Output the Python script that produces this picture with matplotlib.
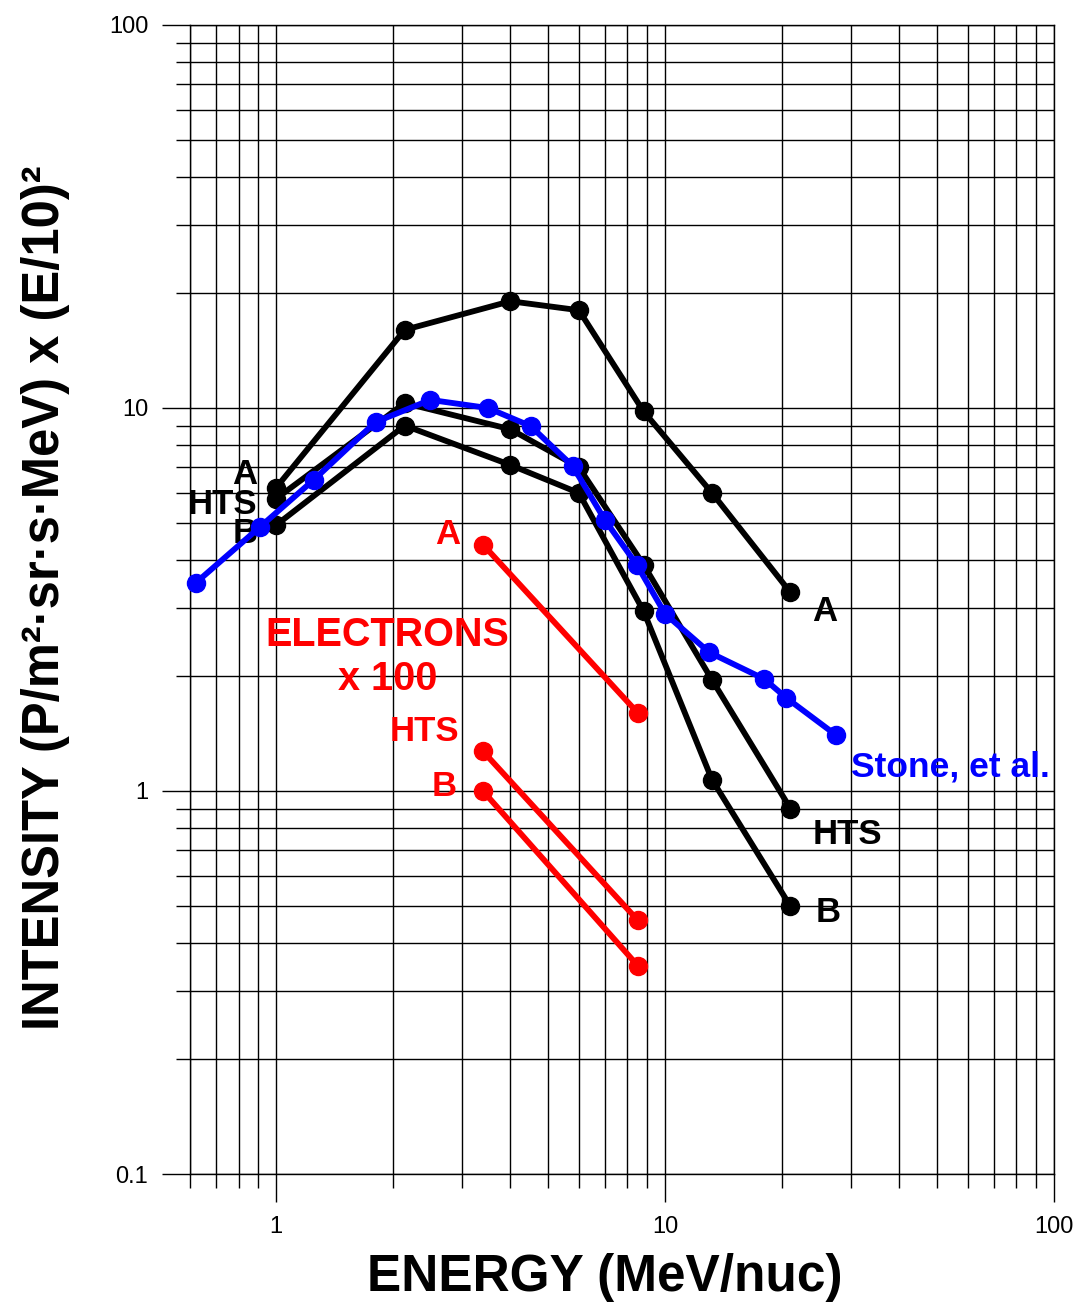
import matplotlib
matplotlib.use('Agg')
import matplotlib.pyplot as plt
from matplotlib import ticker

# ---- data ----
energy = [1.0, 2.14, 4.0, 6.0, 8.8, 13.2, 21.0]
ion_A = [6.2, 16.0, 19.0, 18.0, 9.8, 6.0, 3.3]
ion_HTS = [5.8, 10.3, 8.8, 7.0, 3.9, 1.95, 0.9]
ion_B = [4.95, 9.0, 7.1, 6.0, 2.95, 1.07, 0.5]

stone_energy = [0.62, 0.91, 1.25, 1.80, 2.49, 3.50, 4.51, 5.78, 7.0, 8.45, 10.0, 13.0, 18.0, 20.5, 27.5]
stone_int = [3.49, 4.9, 6.5, 9.19, 10.5, 10.0, 8.97, 7.06, 5.10, 3.9, 2.90, 2.30, 1.96, 1.75, 1.40]

elec_energy = [3.4, 8.5]
elec_A = [4.4, 1.6]
elec_HTS = [1.27, 0.46]
elec_B = [1.0, 0.35]

x_ticks = [1, 10, 100]
y_ticks = [0.1, 1, 10, 100]

plt.rcParams['font.family'] = ['Liberation Sans', 'DejaVu Sans']

fig = plt.figure(figsize=(10.79, 13.02), dpi=100)
ax = fig.add_axes([0.17609, 0.09831, 0.80074, 0.88249])
ax.set_xscale('log')
ax.set_yscale('log')
ax.set_xlim(0.6, 100)
ax.set_ylim(0.1, 100)

ax.xaxis.set_major_locator(ticker.FixedLocator(x_ticks))
ax.yaxis.set_major_locator(ticker.FixedLocator(y_ticks))
ax.xaxis.set_minor_locator(ticker.LogLocator(base=10, subs=range(2, 10), numticks=30))
ax.yaxis.set_minor_locator(ticker.LogLocator(base=10, subs=range(2, 10), numticks=30))
fmt = ticker.FuncFormatter(lambda v, p: f'{v:g}')
ax.xaxis.set_major_formatter(fmt)
ax.yaxis.set_major_formatter(fmt)
ax.xaxis.set_minor_formatter(ticker.NullFormatter())
ax.yaxis.set_minor_formatter(ticker.NullFormatter())

ax.grid(True, which='both', color='black', linewidth=1.0)
ax.set_axisbelow(True)
ax.tick_params(which='major', direction='out', length=20, width=1.0,
               labelsize=17, pad=10, color='black')
ax.tick_params(which='minor', direction='out', length=10, width=1.0, color='black')
for s in ax.spines.values():
    s.set_linewidth(1.0)
    s.set_color('black')

kw = dict(lw=4.2, marker='o', ms=13, clip_on=False)
ax.plot(energy, ion_A, color='black', zorder=3, **kw)
ax.plot(energy, ion_HTS, color='black', zorder=3, **kw)
ax.plot(energy, ion_B, color='black', zorder=3, **kw)
ax.plot(stone_energy, stone_int, color='#0000FF', zorder=5, **kw)
ax.plot(elec_energy, elec_A, color='#FF0000', zorder=3, **kw)
ax.plot(elec_energy, elec_HTS, color='#FF0000', zorder=3, **kw)
ax.plot(elec_energy, elec_B, color='#FF0000', zorder=3, **kw)


def label(text, xy, dx, dy, color, ha, size=25):
    ax.annotate(text, xy=xy, xytext=(dx, dy), textcoords='offset pixels',
                ha=ha, va='baseline', fontsize=size, fontweight='bold',
                color=color, zorder=4)


# right-hand labels
label('A', (energy[-1], ion_A[-1]), 22, -29, 'black', 'left')
label('HTS', (energy[-1], ion_HTS[-1]), 22, -35, 'black', 'left')
label('B', (energy[-1], ion_B[-1]), 25, -16, 'black', 'left')
label('Stone, et al.', (stone_energy[-1], stone_int[-1]), 15, -41, '#0000FF', 'left', size=25.5)
# left-hand labels
label('A', (energy[0], ion_A[0]), -19, 4, 'black', 'right')
label('HTS', (energy[0], ion_HTS[0]), -19, -15, 'black', 'right')
label('B', (energy[0], ion_B[0]), -19, -18, 'black', 'right')
# electron labels
label('A', (elec_energy[0], elec_A[0]), -23, 1, '#FF0000', 'right')
label('HTS', (elec_energy[0], elec_HTS[0]), -24, 10, '#FF0000', 'right')
label('B', (elec_energy[0], elec_B[0]), -26, -5, '#FF0000', 'right')

ax.text(1.93, 1.836, 'ELECTRONS\nx 100', ha='center', va='baseline',
        multialignment='center', fontsize=28.5, fontweight='bold',
        color='#FF0000', linespacing=1.2, zorder=4)

ax.set_xlabel('ENERGY (MeV/nuc)', fontsize=37, fontweight='bold', va='baseline')
ax.xaxis.set_label_coords(0.48, -0.1015)
ax.set_ylabel('INTENSITY (P/m\u00b2\u00b7sr\u00b7s\u00b7MeV) x (E/10)\u00b2',
              fontsize=36.5, fontweight='bold', va='center')
ax.yaxis.set_label_coords(-0.167, 0.502)

fig.savefig('out.png', dpi=100)
